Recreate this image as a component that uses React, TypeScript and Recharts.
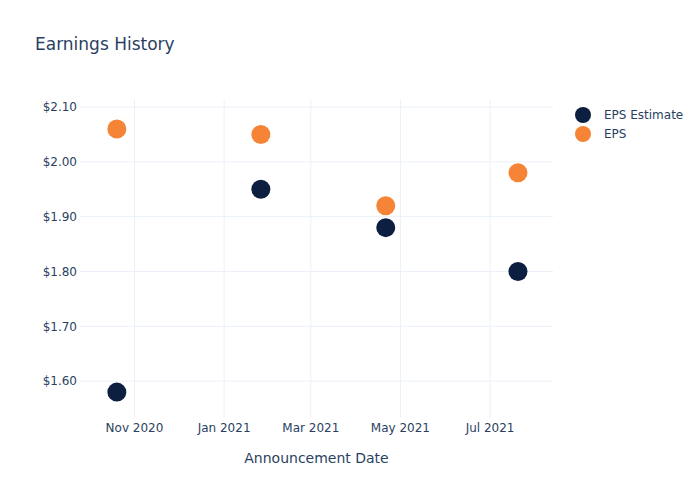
import { CartesianGrid, Scatter, ScatterChart, XAxis, YAxis } from "recharts";

// Announcement dates (UTC) and EPS values.
const announceDates = ["2020-10-20", "2021-01-26", "2021-04-21", "2021-07-20"];
const epsEstimate = [1.58, 1.95, 1.88, 1.8];
const epsActual = [2.06, 2.05, 1.92, 1.98];

const xTickDates = ["2020-11-01", "2021-01-01", "2021-03-01", "2021-05-01", "2021-07-01"];
const xTickLabels = ["Nov 2020", "Jan 2021", "Mar 2021", "May 2021", "Jul 2021"];
const yTicks = [1.6, 1.7, 1.8, 1.9, 2.0, 2.1];
const xRange = ["2020-09-24T22:00:00Z", "2021-08-12T20:00:00Z"];
const yRange = [1.5328, 2.1128];

const ts = (d: string) => new Date(d.length === 10 ? d + "T00:00:00Z" : d).getTime();

const estimateRows = announceDates.map((d, i) => ({ date: ts(d), value: epsEstimate[i] }));
const actualRows = announceDates.map((d, i) => ({ date: ts(d), value: epsActual[i] }));
const xTicks = xTickDates.map(ts);
const xDomain = xRange.map(ts);

const NAVY = "#0c1f40";
const ORANGE = "#f58436";
const TEXT = "#2a3f5f";
const FONT = "'DejaVu Sans', Verdana, sans-serif";

const series = [
  { name: "EPS Estimate", color: NAVY },
  { name: "EPS", color: ORANGE },
];

function dot(color: string) {
  return (p: any) => <circle cx={p.cx} cy={p.cy} r={9.5} fill={color} />;
}

// grid lines only at the tick values, no frame round the plot
function gridX({ offset }: any) {
  const [a, b] = xDomain;
  return xTicks.map((v) => offset.left + ((v - a) / (b - a)) * offset.width);
}
function gridY({ offset }: any) {
  const [a, b] = yRange;
  return yTicks.map((v) => offset.top + ((b - v) / (b - a)) * offset.height);
}

function LegendBox() {
  return (
    <div
      style={{ position: "absolute", left: 575, top: 105, fontFamily: FONT, fontSize: 12, color: TEXT }}
    >
      {series.map((s) => (
        <div key={s.name} style={{ display: "flex", alignItems: "center", height: 19 }}>
          <span
            style={{ width: 16, height: 16, borderRadius: 8, background: s.color, display: "inline-block" }}
          />
          <span style={{ marginLeft: 13 }}>{s.name}</span>
        </div>
      ))}
    </div>
  );
}

export default function App() {
  const tickStyle = { fill: TEXT, fontSize: 12, fontFamily: FONT };
  return (
    <div style={{ position: "absolute", left: 0, top: 0, width: 700, height: 500, background: "#fff" }}>
      <div
        style={{
          position: "absolute",
          left: 35,
          top: 34,
          fontFamily: FONT,
          fontSize: 17,
          color: TEXT,
        }}
      >
        Earnings History
      </div>
      <LegendBox />
      <ScatterChart width={700} height={500} margin={{ top: 100, right: 147, bottom: 0, left: 0 }}>
        <CartesianGrid
          stroke="#ebf0f8"
          strokeWidth={1}
          horizontalCoordinatesGenerator={gridY}
          verticalCoordinatesGenerator={gridX}
        />
        <XAxis
          type="number"
          dataKey="date"
          domain={xDomain}
          ticks={xTicks}
          tickFormatter={(v: number) => xTickLabels[xTicks.indexOf(v)]}
          axisLine={false}
          tickLine={false}
          tickSize={0}
          tickMargin={5}
          height={82}
          tick={tickStyle}
          allowDataOverflow
          label={{
            value: "Announcement Date",
            position: "insideBottom",
            offset: 37,
            fill: TEXT,
            fontSize: 14,
            fontFamily: FONT,
          }}
        />
        <YAxis
          type="number"
          dataKey="value"
          domain={yRange}
          ticks={yTicks}
          tickFormatter={(v: number) => `$${v.toFixed(2)}`}
          axisLine={false}
          tickLine={false}
          tickSize={0}
          tickMargin={3}
          width={80}
          tick={tickStyle}
          allowDataOverflow
        />
        <Scatter name="EPS Estimate" data={estimateRows} shape={dot(NAVY)} isAnimationActive={false} />
        <Scatter name="EPS" data={actualRows} shape={dot(ORANGE)} isAnimationActive={false} />
      </ScatterChart>
    </div>
  );
}
